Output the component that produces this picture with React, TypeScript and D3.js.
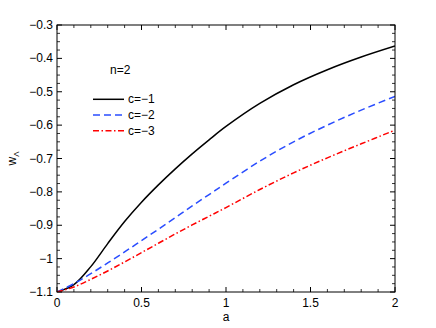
import React from "react";
import * as d3 from "d3";

const width = 436;
const height = 328;
const plot = { left: 57, right: 395, top: 25, bottom: 292 };

// values, a = 0 .. 2
const aValues = [0, 0.1, 0.2, 0.3, 0.4, 0.5, 0.6, 0.7, 0.8, 0.9, 1.0, 1.2, 1.4, 1.6, 1.8, 2.0];
const cMinus1 = [-1.1, -1.078, -1.024, -0.955, -0.889, -0.831, -0.779, -0.731, -0.686, -0.644, -0.604, -0.535, -0.479, -0.434, -0.396, -0.363];
const cMinus2 = [-1.1, -1.075, -1.045, -1.013, -0.98, -0.946, -0.912, -0.877, -0.842, -0.808, -0.774, -0.708, -0.65, -0.6, -0.555, -0.514];
const cMinus3 = [-1.1, -1.085, -1.062, -1.037, -1.01, -0.982, -0.954, -0.926, -0.899, -0.873, -0.847, -0.793, -0.743, -0.698, -0.656, -0.615];

const xTicks = [0, 0.5, 1, 1.5, 2];
const yTicks = [-1.1, -1, -0.9, -0.8, -0.7, -0.6, -0.5, -0.4, -0.3];

const series = [
  { label: "c=−1", values: cMinus1, color: "#000000", dash: "" },
  { label: "c=−2", values: cMinus2, color: "#2a4dff", dash: "7,4" },
  { label: "c=−3", values: cMinus3, color: "#ff0000", dash: "6,2.5,1.5,2.5" },
];

const fmt = (v: number) => String(+v.toFixed(1)).replace("-", "−");

export default function App() {
  const x = d3.scaleLinear().domain([0, 2]).range([plot.left, plot.right]);
  const y = d3.scaleLinear().domain([-1.1, -0.3]).range([plot.bottom, plot.top]);

  const line = d3
    .line<number>()
    .x((_, i) => x(aValues[i]))
    .y((d) => y(d))
    .curve(d3.curveCatmullRom.alpha(0.5));

  const xMinor = d3.range(0, 2.0001, 0.1).filter((v) => Math.abs(v * 2 - Math.round(v * 2)) > 1e-6);
  const yMinor = d3.range(-1.1, -0.2999, 0.025).filter((v) => Math.abs(v * 10 - Math.round(v * 10)) > 1e-6);

  const font = "'Liberation Sans', Arial, sans-serif";

  return (
    <div style={{ position: "absolute", left: 0, top: 0 }}>
      <svg width={width} height={height} style={{ display: "block", background: "#fff" }} fontFamily={font} fontSize={12}>
        <defs>
          <clipPath id="plot-clip">
            <rect x={plot.left} y={plot.top} width={plot.right - plot.left} height={plot.bottom - plot.top} />
          </clipPath>
        </defs>

        {/* minor ticks */}
        {xMinor.map((v, i) => (
          <g key={"xm" + i} stroke="#000" strokeWidth={0.8}>
            <line x1={x(v)} x2={x(v)} y1={plot.bottom} y2={plot.bottom - 3} />
            <line x1={x(v)} x2={x(v)} y1={plot.top} y2={plot.top + 3} />
          </g>
        ))}
        {yMinor.map((v, i) => (
          <g key={"ym" + i} stroke="#000" strokeWidth={0.8}>
            <line x1={plot.left} x2={plot.left + 3} y1={y(v)} y2={y(v)} />
            <line x1={plot.right} x2={plot.right - 3} y1={y(v)} y2={y(v)} />
          </g>
        ))}

        {/* major ticks and labels */}
        {xTicks.map((v) => (
          <g key={"x" + v}>
            <line x1={x(v)} x2={x(v)} y1={plot.bottom} y2={plot.bottom - 5} stroke="#000" />
            <line x1={x(v)} x2={x(v)} y1={plot.top} y2={plot.top + 5} stroke="#000" />
            <text x={x(v)} y={plot.bottom + 15} textAnchor="middle">
              {fmt(v)}
            </text>
          </g>
        ))}
        {yTicks.map((v) => (
          <g key={"y" + v}>
            <line x1={plot.left} x2={plot.left + 5} y1={y(v)} y2={y(v)} stroke="#000" />
            <line x1={plot.right} x2={plot.right - 5} y1={y(v)} y2={y(v)} stroke="#000" />
            <text x={plot.left - 4} y={y(v) + 4} textAnchor="end">
              {fmt(v)}
            </text>
          </g>
        ))}

        {/* curves */}
        <g clipPath="url(#plot-clip)">
          {series.map((s) => (
            <path
              key={s.label}
              d={line(s.values) || ""}
              fill="none"
              stroke={s.color}
              strokeWidth={1.5}
              strokeDasharray={s.dash || undefined}
            />
          ))}
        </g>

        <rect
          x={plot.left}
          y={plot.top}
          width={plot.right - plot.left}
          height={plot.bottom - plot.top}
          fill="none"
          stroke="#000"
          strokeWidth={1}
        />

        {/* legend */}
        <text x={110} y={73.5}>n=2</text>
        {series.map((s, i) => (
          <g key={"lg" + i} transform={`translate(0, ${99.3 + i * 15.7})`}>
            <line x1={93} x2={124} y1={0} y2={0} stroke={s.color} strokeWidth={1.5} strokeDasharray={s.dash || undefined} />
            <text x={128} y={4}>{s.label}</text>
          </g>
        ))}

        {/* axis labels */}
        <text x={x(1)} y={321} textAnchor="middle">a</text>
        <text transform={`translate(16, ${(plot.top + plot.bottom) / 2}) rotate(-90)`} textAnchor="middle">
          w<tspan fontSize={8} dy={3}>Λ</tspan>
        </text>
      </svg>
    </div>
  );
}
